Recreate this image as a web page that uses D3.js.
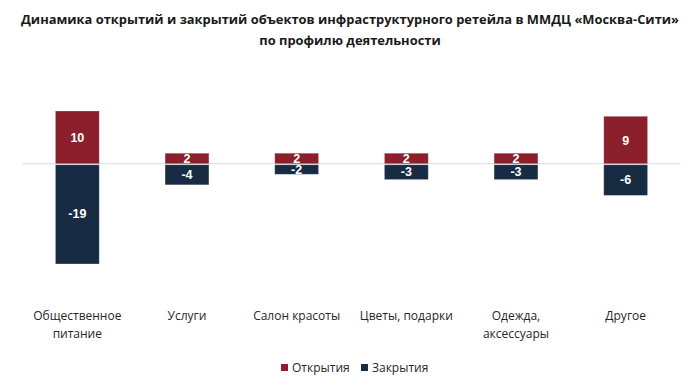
<!DOCTYPE html>
<html><head><meta charset="utf-8">
<script src="https://cdn.jsdelivr.net/npm/d3@7"></script>
<style>body{margin:0;background:#fff;} svg{display:block;}</style>
</head><body>
<svg id="c" width="700" height="390"></svg>
<script>
const categories = [["Общественное","питание"],["Услуги"],["Салон красоты"],["Цветы, подарки"],["Одежда,","аксессуары"],["Другое"]];
const openings = [10, 2, 2, 2, 2, 9];
const closings = [-19, -4, -2, -3, -3, -6];
const seriesNames = ["Открытия", "Закрытия"];
const colors = ["#8c1f2c", "#172b42"];
const titleLines = ["Динамика открытий и закрытий объектов инфраструктурного ретейла в ММДЦ «Москва-Сити»", "по профилю деятельности"];

const svg = d3.select("#c");
const font = "'Open Sans', sans-serif";

svg.selectAll("text.title").data(titleLines).enter().append("text")
  .attr("class","title")
  .attr("x", 350).attr("y", (d,i)=>23.5 + i*21)
  .attr("text-anchor","middle")
  .attr("font-family", font).attr("font-weight","bold").attr("font-size", 12.9)
  .attr("fill","#1a1a1a").text(d=>d);

const idx = categories.map((d,i)=>i);
const x = d3.scaleBand().domain(idx).range([22.5, 680.5]).paddingInner(0.6).paddingOuter(0.3);
const y = d3.scaleLinear().domain([-19, 10]).range([264, 111]);

svg.append("line").attr("x1",22.5).attr("x2",680.5).attr("y1",y(0)).attr("y2",y(0))
  .attr("stroke","#d9d9d9").attr("stroke-width",1);

const g = svg.append("g");
[openings, closings].forEach((vals, s) => {
  g.selectAll(null).data(vals).enter().append("rect")
    .attr("x",(d,i)=>x(i)).attr("width",x.bandwidth())
    .attr("y",d=>d>=0? y(d): y(0)+1)
    .attr("height",d=>Math.abs(y(d)-y(0)) - (d>=0?0:1))
    .attr("fill",colors[s]).attr("stroke","#ffffff").attr("stroke-opacity",0.35).attr("stroke-width",0.8);
  g.selectAll(null).data(vals).enter().append("text")
    .attr("x",(d,i)=>x(i)+x.bandwidth()/2)
    .attr("y",d=>(y(d)+y(0))/2 + 4.5)
    .attr("text-anchor","middle")
    .attr("font-family","'Liberation Sans', Arial, sans-serif").attr("font-weight","bold").attr("font-size",12.5)
    .attr("fill","#fff").text(d=>d);
});

const lab = svg.selectAll("text.cat").data(categories).enter().append("text")
  .attr("class","cat")
  .attr("x",(d,i)=>x(i)+x.bandwidth()/2).attr("y",320)
  .attr("text-anchor","middle")
  .attr("font-family",font).attr("font-size",12).attr("fill","#262626");
lab.selectAll("tspan").data(d=>d).enter().append("tspan")
  .attr("x",function(){return this.parentNode.getAttribute("x");})
  .attr("dy",(d,i)=>i===0?0:18).text(d=>d);

const leg = svg.append("g");
const legX = [281, 361];
seriesNames.forEach((n,i)=>{
  leg.append("rect").attr("x",legX[i]).attr("y",364).attr("width",7).attr("height",7).attr("fill",colors[i]);
  leg.append("text").attr("x",legX[i]+11).attr("y",372).attr("font-family",font).attr("font-size",12)
    .attr("fill","#262626").text(n);
});
</script>
</body></html>
